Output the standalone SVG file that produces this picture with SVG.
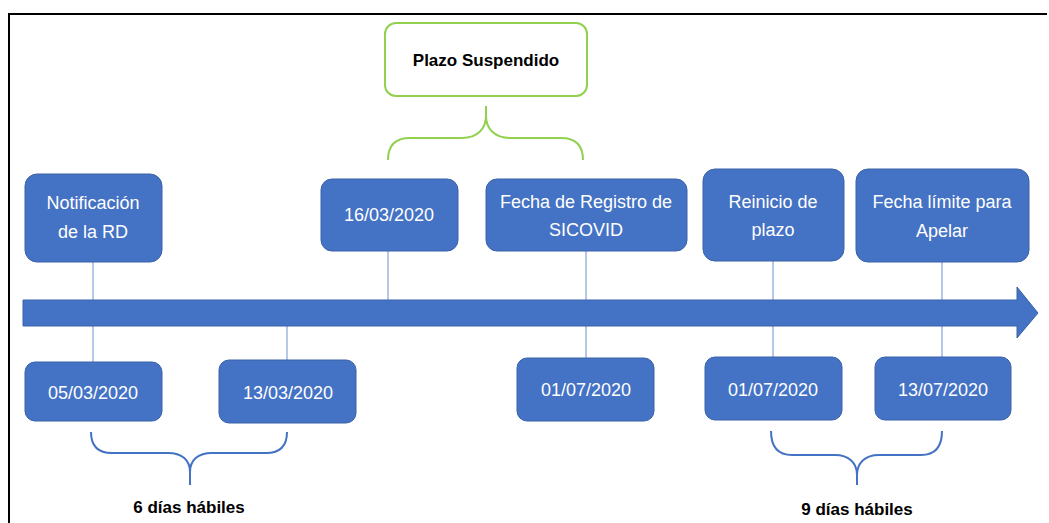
<svg xmlns="http://www.w3.org/2000/svg" width="1049" height="523" viewBox="0 0 1049 523">
<style>
.box{fill:#4472C4;stroke:#3A62A8;stroke-width:1}
.t{font-family:"Liberation Sans",Arial,sans-serif;font-size:18px;fill:#FFFFFF;text-anchor:middle}
.b{font-family:"Liberation Sans",Arial,sans-serif;font-size:17px;font-weight:bold;fill:#000000;text-anchor:middle}
.conn{stroke:#8FAADC;stroke-width:1.3;fill:none}
.brace{stroke:#4472C4;stroke-width:2;fill:none}
.gbrace{stroke:#92D050;stroke-width:2;fill:none}
</style>
<rect x="0" y="0" width="1049" height="523" fill="#FFFFFF"/>
<g id="frame" stroke="#000000" stroke-width="2" fill="none">
<line x1="8" y1="14" x2="1047" y2="14"/>
<line x1="9" y1="14" x2="9" y2="523"/>
</g>
<g id="connectors">
<line class="conn" x1="93" y1="262" x2="93" y2="362"/>
<line class="conn" x1="287" y1="320" x2="287" y2="360"/>
<line class="conn" x1="388" y1="251" x2="388" y2="305"/>
<line class="conn" x1="586" y1="251" x2="586" y2="358"/>
<line class="conn" x1="773" y1="261" x2="773" y2="357"/>
<line class="conn" x1="942" y1="262" x2="942" y2="357"/>
<path class="gbrace" d="M388,160 C388,146 395,138 410,138 L462,138 C478,138 486,128 486,116 L486,106 M486,116 C486,128 494,138 510,138 L561,138 C576,138 583,146 583,160"/>
<path class="brace" d="M91,432 C91,446 98,453 112,453 L168,453 C182,453 190,460 190,472 L190,485 M190,472 C190,460 198,453 212,453 L266,453 C280,453 287,446 287,432"/>
<path class="brace" d="M771,431 C771,447 778,455 792,455 L835,455 C849,455 857,463 857,475 L857,485 M857,475 C857,463 865,455 879,455 L921,455 C935,455 942,447 942,431"/>
</g>
<g id="timeline">
<path d="M23,300 L1017,300 L1017,287 L1038,313 L1017,338 L1017,326 L23,326 Z" fill="#4472C4" stroke="#3A62A8" stroke-width="1"/>
</g>
<g id="plazo-suspendido">
<rect x="385" y="23" width="202" height="73" rx="11" fill="#FFFFFF" stroke="#92D050" stroke-width="2"/>
<text class="b" x="486" y="66">Plazo Suspendido</text>
</g>
<g id="notificacion">
<rect class="box" x="25" y="174" width="137" height="88" rx="12"/>
<text class="t" x="93" y="209">Notificación</text>
<text class="t" x="93" y="238">de la RD</text>
</g>
<g id="d16-03">
<rect class="box" x="321" y="179" width="137" height="72" rx="11"/>
<text class="t" x="389" y="221">16/03/2020</text>
</g>
<g id="registro">
<rect class="box" x="486" y="179" width="201" height="72" rx="11"/>
<text class="t" x="586" y="208">Fecha de Registro de</text>
<text class="t" x="586" y="236">SICOVID</text>
</g>
<g id="reinicio">
<rect class="box" x="703" y="169" width="141" height="92" rx="12"/>
<text class="t" x="773" y="208">Reinicio de</text>
<text class="t" x="773" y="236">plazo</text>
</g>
<g id="limite">
<rect class="box" x="856" y="169" width="173" height="93" rx="12"/>
<text class="t" x="942" y="208">Fecha límite para</text>
<text class="t" x="942" y="237">Apelar</text>
</g>
<g id="d05-03">
<rect class="box" x="25" y="362" width="137" height="59" rx="10"/>
<text class="t" x="93" y="399">05/03/2020</text>
</g>
<g id="d13-03">
<rect class="box" x="219" y="360" width="137" height="63" rx="10"/>
<text class="t" x="288" y="399">13/03/2020</text>
</g>
<g id="d01-07a">
<rect class="box" x="517" y="358" width="137" height="63" rx="10"/>
<text class="t" x="586" y="396">01/07/2020</text>
</g>
<g id="d01-07b">
<rect class="box" x="705" y="357" width="137" height="63" rx="10"/>
<text class="t" x="773" y="396">01/07/2020</text>
</g>
<g id="d13-07">
<rect class="box" x="875" y="357" width="136" height="63" rx="10"/>
<text class="t" x="943" y="396">13/07/2020</text>
</g>
<g id="label-6">
<text class="b" x="189" y="513">6 días hábiles</text>
</g>
<g id="label-9">
<text class="b" x="857" y="515">9 días hábiles</text>
</g>
</svg>
